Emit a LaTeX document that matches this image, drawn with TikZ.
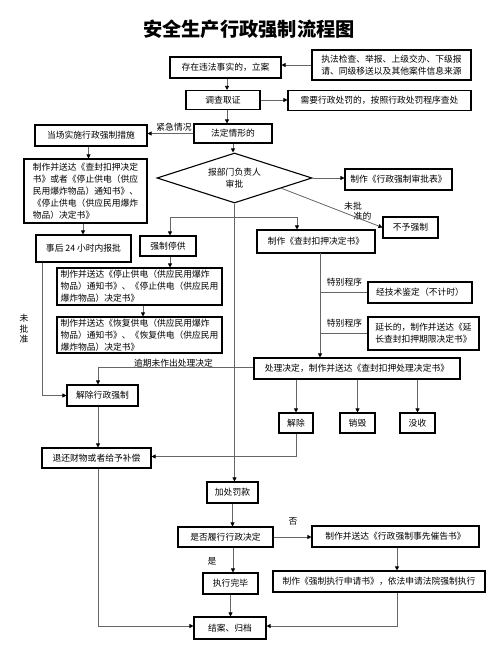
\documentclass[tikz,border=0pt]{standalone}
\usepackage{fontspec}
\setmainfont{Noto Sans CJK SC}
\usetikzlibrary{arrows.meta,shapes.geometric,calc}
\begin{document}
\begin{tikzpicture}[x=1bp,y=-1bp,
  every node/.style={font=\fontsize{8.8}{12}\selectfont},
  bx/.style={draw=black, line width=1.1bp, fill=white, inner sep=0pt, align=center},
  sz/.style 2 args={minimum width=#1bp, minimum height=#2bp},
  ln/.style={draw=black!60, line width=0.8bp},
  arr/.style={ln, -{Triangle[length=4bp,width=4bp,color=black]}},
  lbl/.style={inner sep=0pt}
]
\fill[white] (0,0) rectangle (504,651);
\useasboundingbox (0,0) rectangle (504,651);

% title
\node[font=\fontsize{19.3}{22}\selectfont\bfseries] (title) at (249,29) {安全生产行政强制流程图};

% boxes
\node[bx, sz={159}{30}, align=left] (src) at (391.5,65) {执法检查、举报、上级交办、下级报\\请、同级移送以及其他案件信息来源};
\node[bx, sz={111}{21}] (case) at (225.5,67.5) {存在违法事实的，立案};
\node[bx, sz={74}{19}] (inv) at (223,100) {调查取证};
\node[bx, sz={183}{20}] (pen) at (379.5,100.5) {需要行政处罚的，按照行政处罚程序查处};
\node[bx, sz={78}{19}] (legal) at (233,133.5) {法定情形的};
\node[bx, sz={112}{21}] (onsite) at (91,135.5) {当场实施行政强制措施};
\node[draw=black, line width=1.1bp, fill=white, diamond, aspect=3.1, inner sep=0pt, sz={155}{50}, align=center] (appr) at (234.5,178) {报部门负责人\\审批};
\node[bx, sz={107}{21}] (form) at (398.5,179.5) {制作《行政强制审批表》};
\node[bx, sz={55}{21}] (nof) at (410.5,227.5) {不予强制};
\node[bx, sz={123}{64}, align=left] (docs1) at (85.5,191) {制作并送达《查封扣押决定\\书》或者《停止供电（供应\\民用爆炸物品）通知书》、\\《停止供电（供应民用爆炸\\物品）决定书》};
\node[bx, sz={95}{27}] (report) at (83.5,248.5) {事后 24 小时内报批};
\node[bx, sz={56}{20}] (stop) at (168,246) {强制停供};
\node[bx, sz={118}{23}] (seize) at (316,241.5) {制作《查封扣押决定书》};
\node[bx, sz={165}{37}, align=left] (docs2) at (139.5,286.5) {制作并送达《停止供电（供应民用爆炸\\物品）通知书》、《停止供电（供应民用\\爆炸物品）决定书》};
\node[bx, sz={165}{36}, align=left] (docs3) at (139.5,335) {制作并送达《恢复供电（供应民用爆炸\\物品）通知书》、《恢复供电（供应民用\\爆炸物品）决定书》};
\node[bx, sz={104}{21}] (tech) at (420,292.5) {经技术鉴定（不计时）};
\node[bx, sz={111}{33}, align=left] (ext) at (423.5,333.5) {延长的，制作并送达《延\\长查封扣押期限决定书》};
\node[bx, sz={206}{21}] (dec) at (357,368.5) {处理决定，制作并送达《查封扣押处理决定书》};
\node[bx, sz={71}{21}] (lift) at (102.5,395.5) {解除行政强制};
\node[bx, sz={34}{20}] (rel) at (296,423) {解除};
\node[bx, sz={35}{20}] (dest) at (357.5,423) {销毁};
\node[bx, sz={35}{20}] (conf) at (417.5,423) {没收};
\node[bx, sz={109}{20}] (ret) at (96.5,458) {退还财物或者给予补偿};
\node[bx, sz={51}{21}] (fine) at (232.5,492.5) {加处罚款};
\node[bx, sz={95}{20}] (perf) at (225.5,537) {是否履行行政决定};
\node[bx, sz={167}{21}] (notice) at (395.5,536.5) {制作并送达《行政强制事先催告书》};
\node[bx, sz={212}{21}] (apply) at (379,581.5) {制作《强制执行申请书》，依法申请法院强制执行};
\node[bx, sz={55}{21}] (done) at (230.5,583.5) {执行完毕};
\node[bx, sz={72}{22}] (close) at (230,628) {结案、归档};

% labels
\node[lbl] (lemerg) at (174,127) {紧急情况};
\node[lbl] (lno1) at (353,206) {未批};
\node[lbl] (lno2) at (362.5,216.5) {准的};
\node[lbl, align=center, font=\fontsize{8.8}{10.5}\selectfont] (lnoL) at (24,329) {未\\批\\准};
\node[lbl] (lsp1) at (344.5,282) {特别程序};
\node[lbl] (lsp2) at (344.5,323) {特别程序};
\node[lbl] (lover) at (173.5,363) {逾期未作出处理决定};
\node[lbl] (lnot) at (293,521) {否};
\node[lbl] (lyes) at (212,561) {是};

% junctions
\coordinate (jL) at (170,217);
\coordinate (jR) at (297,217);
\coordinate (jS) at (320,253);

% connectors
\draw[arr] (src.west) -- (src.west -| case.east);
\draw[arr] ([xshift=1.5bp]case.south) -- ([xshift=1.5bp]case.south |- inv.north);
\draw[arr] (inv.east) -- (inv.east -| pen.west);
\draw[arr] ([xshift=4bp]inv.south) -- ([xshift=4bp]inv.south |- legal.north);
\draw[arr] (legal.west) -- (legal.west -| onsite.east);
\draw[arr] (legal.south) -- (legal.south |- appr.north);
\draw[arr] ([xshift=-2.5bp]onsite.south) -- ([xshift=-2.5bp]onsite.south |- docs1.north);
\draw[arr] ([xshift=-2.5bp]docs1.south) -- ([xshift=-2.5bp]docs1.south |- report.north);
\draw[arr] ([xshift=-41.5bp]report.south) |- (lift.west);
\draw[arr] (appr.east) -- (appr.east -| form.west);
\draw[arr] ($(appr.east)!0.4!(appr.south)$) -- (nof.west);
\draw[arr] (appr.south) -- (appr.south |- fine.north);
\draw[ln] (jL) -- (jR);
\draw[arr] (jL) -- (jL |- stop.north);
\draw[arr] (jR) -- (jR |- seize.north);
\draw[arr] (jL |- stop.south) -- (jL |- docs2.north);
\draw[arr] ([xshift=3.5bp]docs2.south) -- ([xshift=3.5bp]docs2.south |- docs3.north);
\draw[arr] (jS) -- (jS |- dec.north);
\draw[ln] (jS |- tech.west) -- (tech.west);
\draw[ln] (jS |- ext.west) -- (ext.west);
\draw[arr] ([yshift=1.5bp]dec.west) -| ([xshift=-4.5bp]lift.north);
\draw[arr] (rel.north |- dec.south) -- (rel.north);
\draw[arr] (dest.north |- dec.south) -- (dest.north);
\draw[arr] (conf.north |- dec.south) -- (conf.north);
\draw[arr] (rel.south) |- ([yshift=1.5bp]ret.east);
\draw[arr] ([xshift=-4.5bp]lift.south) -- ([xshift=-4.5bp]lift.south |- ret.north);
\draw[arr] ([xshift=1.5bp]ret.south) |- ([yshift=2bp]close.west);
\draw[arr] (fine.south) -- (fine.south |- perf.north);
\draw[arr] (perf.east) -- (perf.east -| notice.west);
\draw[arr] ([xshift=1.5bp]notice.south) -- ([xshift=1.5bp]notice.south |- apply.north);
\draw[arr] ([xshift=7.5bp]perf.south) -- ([xshift=7.5bp]perf.south |- done.north);
\draw[arr] (done.south) -- (done.south |- close.north);
\draw[arr] ([xshift=1.5bp]notice.south |- apply.south) |- ([yshift=2bp]close.east);
\end{tikzpicture}
\end{document}
